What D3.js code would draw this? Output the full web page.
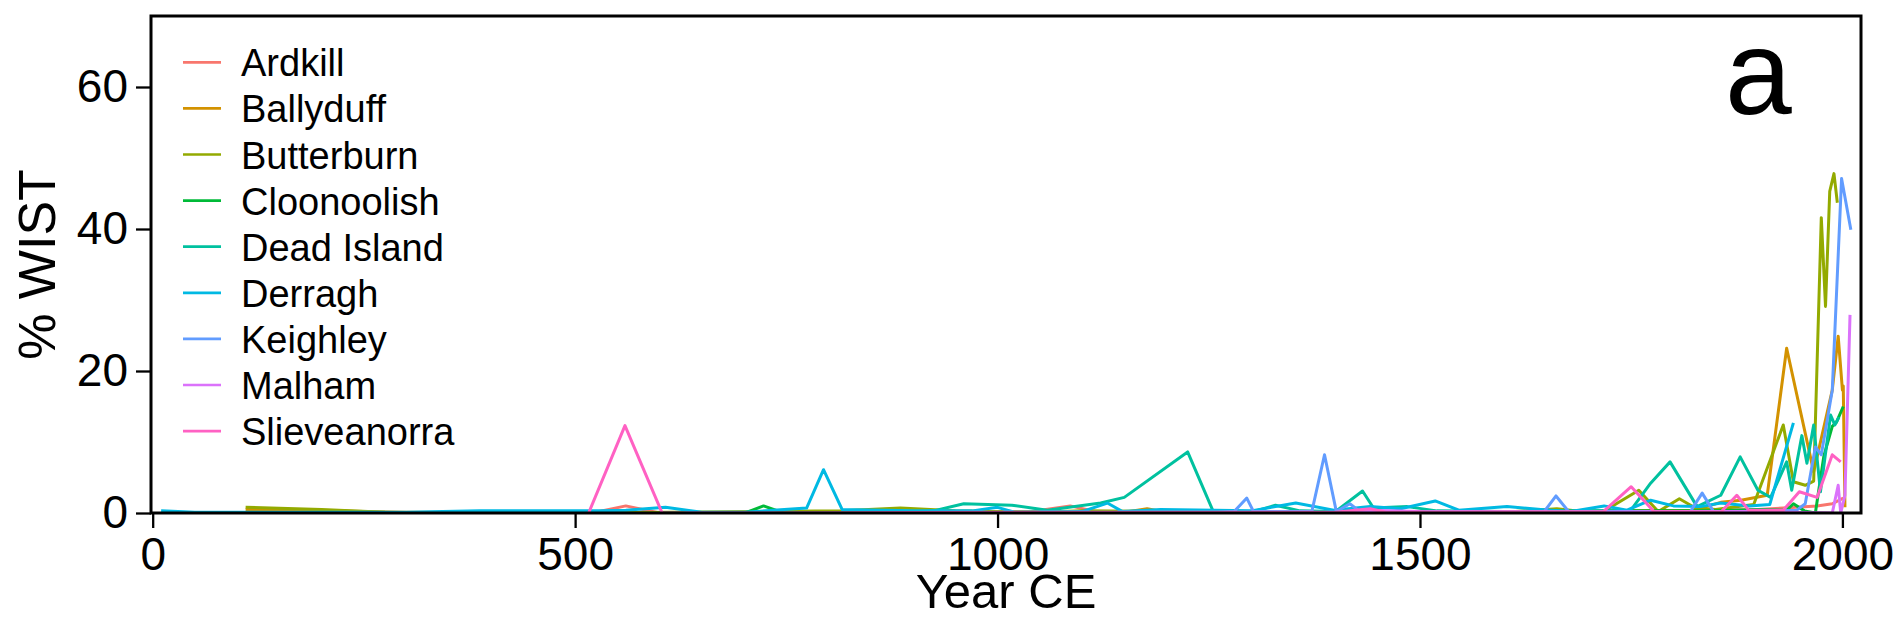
<!DOCTYPE html>
<html>
<head>
<meta charset="utf-8">
<script src="https://cdn.jsdelivr.net/npm/d3@7"></script>
<style>
    body { margin: 0; padding: 0; background: white; }
    svg { display: block; }
</style>
</head>
<body>
<div id="main"></div>
<script>
// sites and their colours (ggplot hue palette)
const sites = ['Ardkill', 'Ballyduff', 'Butterburn', 'Cloonoolish', 'Dead Island', 'Derragh', 'Keighley', 'Malham', 'Slieveanorra'];
const siteColors = ['#F8766D', '#D39200', '#93AA00', '#00BA38', '#00C19F', '#00B9E3', '#619CFF', '#DB72FB', '#FF61C3'];

// [year CE, % WIST]
const ardkill = [[520,0],[560,1.0],[600,0],[700,0.1],[900,0.1],[1040,0.2],[1086,1.0],[1120,0.1],[1300,0.1],[1500,0.2],[1700,0.2],[1800,0.3],[1900,0.5],[1930,0.7],[1970,1.0],[1988,1.3],[2001,2.1]];
const ballyduff = [[110,0.5],[150,0.5],[200,0.3],[300,0.1],[500,0],[900,0.1],[1150,0.1],[1177,0.6],[1200,0.1],[1500,0.1],[1700,0.2],[1750,0.3],[1824,0.4],[1856,1.5],[1880,1.8],[1911,2.5],[1934,23.2],[1966,5.8],[1988,17.3],[1995,24.9],[2000,17.3],[2001,17.9],[2003,0.8]];
const butterburn = [[110,0.8],[200,0.5],[275,0.1],[500,0],[816,0.3],[885,0.7],[950,0.3],[1050,0.1],[1100,0.3],[1300,0.1],[1440,0.2],[1500,0.1],[1600,0.1],[1662,0.6],[1700,0.1],[1717,0.2],[1759,3.2],[1782,0.2],[1807,2.0],[1826,0.7],[1850,0.5],[1895,1.2],[1930,12.4],[1942,4.4],[1956,3.9],[1966,4.5],[1975,41.6],[1980,29.1],[1985,45.3],[1990,47.8],[1994,43.7]];
const cloonoolish = [[600,0],[701,0],[723,1.0],[747,0],[900,0.1],[1200,0.1],[1500,0.1],[1750,0.3],[1850,0.3],[1900,0.5],[1934,0.4],[1942,1.3],[1955,0.3],[1968,0],[1978,8.0],[1988,12.2],[1993,12.8],[2001,15.0]];
const deadIsland = [[900,0.1],[924,0.3],[960,1.3],[1017,1.1],[1059,0.4],[1122,1.4],[1150,2.2],[1225,8.6],[1255,0.3],[1300,0.1],[1329,1.1],[1358,0.3],[1400,0.2],[1432,3.1],[1445,0.7],[1485,0.9],[1520,0.3],[1600,0.2],[1700,0.3],[1749,0.3],[1773,4.2],[1796,7.2],[1828,0.9],[1856,2.5],[1879,7.9],[1900,3.2],[1915,2.2],[1934,7.2],[1940,3.2],[1952,10.9],[1958,7.0],[1966,12.4],[1974,3.0],[1986,13.8],[1991,12.4],[1996,13.5]];
const derragh = [[10,0.3],[50,0.1],[150,0.1],[300,0.1],[387,0.3],[490,0.3],[530,0.3],[560,0.4],[607,0.8],[650,0.1],[700,0.1],[774,0.7],[794,6.1],[816,0.5],[900,0.3],[970,0.3],[1000,0.8],[1020,0.1],[1100,0.2],[1130,1.4],[1148,0.2],[1193,0.5],[1300,0.3],[1353,1.4],[1398,0.4],[1441,0.9],[1477,0.6],[1518,1.7],[1546,0.4],[1603,0.9],[1643,0.5],[1678,0.2],[1718,1.0],[1745,0.4],[1773,1.8],[1800,1.0],[1832,0.9],[1856,1.4],[1890,1.0],[1914,1.2],[1942,12.7]];
const keighley = [[1250,0],[1280,0.2],[1295,2.1],[1303,0.2],[1372,0.2],[1387,8.2],[1401,0.2],[1417,1.3],[1428,0.3],[1500,0.1],[1647,0.2],[1661,2.4],[1676,0.2],[1820,0.2],[1834,2.8],[1848,0.1],[1946,0.4],[1956,1.3],[1968,9.3],[1975,8.2],[1988,17.3],[1999,47.1],[2010,39.9]];
const malham = [[1400,0],[1440,0.4],[1500,0.2],[1700,0.1],[1800,0.2],[1900,0.2],[1988,0],[1995,3.9],[1998,0],[2003,2.5],[2009,27.9]];
const slieveanorra = [[516,0],[559,12.3],[603,0],[700,0],[1000,0.1],[1400,0.1],[1441,0.6],[1460,0.1],[1717,0.2],[1750,3.7],[1777,0.2],[1856,0.1],[1875,2.5],[1889,0.4],[1930,0.4],[1949,3.0],[1970,2.2],[1988,8.2],[1998,7.2]];

const seriesData = [ardkill, ballyduff, butterburn, cloonoolish, deadIsland, derragh, keighley, malham, slieveanorra];
const xTicks = [0, 500, 1000, 1500, 2000];
const yTicks = [0, 20, 40, 60];

const FONT = '"Liberation Sans", Arial, sans-serif';
const [ WIDTH, HEIGHT ] = [ 1899, 639 ];
const [ LEFT, RIGHT, TOP, BOTTOM ] = [ 151, 1861, 16, 513 ];

const scaleX = d3.scaleLinear().domain([-2, 2022]).range([LEFT, RIGHT]);
const scaleY = d3.scaleLinear().domain([0, 70]).range([BOTTOM, TOP]);
const scaleColor = d3.scaleOrdinal().domain(sites).range(siteColors);

const canvas = d3.select('#main').append('svg').attr('width', WIDTH).attr('height', HEIGHT);
canvas.append('rect').attr('width', WIDTH).attr('height', HEIGHT).attr('fill', 'white');

canvas.append('clipPath').attr('id', 'plot-clip')
    .append('rect').attr('x', LEFT).attr('y', TOP).attr('width', RIGHT - LEFT).attr('height', BOTTOM - TOP);

const line = d3.line().x((d) => scaleX(d[0])).y((d) => scaleY(d[1]));

canvas.append('g').attr('clip-path', 'url(#plot-clip)')
    .selectAll('path').data(seriesData).enter().append('path')
    .attr('d', (d) => line(d))
    .attr('fill', 'none')
    .attr('stroke', (d, i) => scaleColor(sites[i]))
    .attr('stroke-width', 3)
    .attr('stroke-linejoin', 'round');

// axes
const xAxis = canvas.append('g').attr('transform', `translate(0,${BOTTOM})`)
    .call(d3.axisBottom(scaleX).tickValues(xTicks).tickSize(15).tickPadding(9).tickFormat(d3.format('d')));
const yAxis = canvas.append('g').attr('transform', `translate(${LEFT},0)`)
    .call(d3.axisLeft(scaleY).tickValues(yTicks).tickSize(15).tickPadding(8).tickFormat(d3.format('d')));
[xAxis, yAxis].forEach((axis) => {
    axis.select('.domain').remove();
    axis.selectAll('line').attr('stroke', 'black').attr('stroke-width', 2.3);
    axis.selectAll('text').attr('fill', 'black').attr('font-family', FONT).attr('font-size', 46);
});

// frame on top of the lines
canvas.append('rect')
    .attr('x', LEFT).attr('y', TOP)
    .attr('width', RIGHT - LEFT).attr('height', BOTTOM - TOP)
    .attr('fill', 'none').attr('stroke', 'black').attr('stroke-width', 3);

canvas.append('text').text('Year CE')
    .attr('x', (LEFT + RIGHT) / 2).attr('y', 608)
    .attr('text-anchor', 'middle').attr('font-family', FONT).attr('font-size', 49);
canvas.append('text').text('% WIST')
    .attr('transform', `translate(55,${(TOP + BOTTOM) / 2}) rotate(-90)`)
    .attr('text-anchor', 'middle').attr('font-family', FONT).attr('font-size', 52);

canvas.append('text').text('a')
    .attr('x', 1725).attr('y', 114)
    .attr('font-family', FONT).attr('font-size', 120);

// legend
const legend = canvas.append('g').attr('id', 'legend');
const legendItems = legend.selectAll('g').data(sites).enter().append('g')
    .attr('transform', (d, i) => `translate(0,${62.3 + i * 46.1})`);
legendItems.append('line')
    .attr('x1', 183).attr('x2', 221)
    .attr('stroke', (d) => scaleColor(d)).attr('stroke-width', 2.7);
legendItems.append('text').text((d) => d)
    .attr('x', 241).attr('y', 14)
    .attr('font-family', FONT).attr('font-size', 38);
</script>
</body>
</html>
